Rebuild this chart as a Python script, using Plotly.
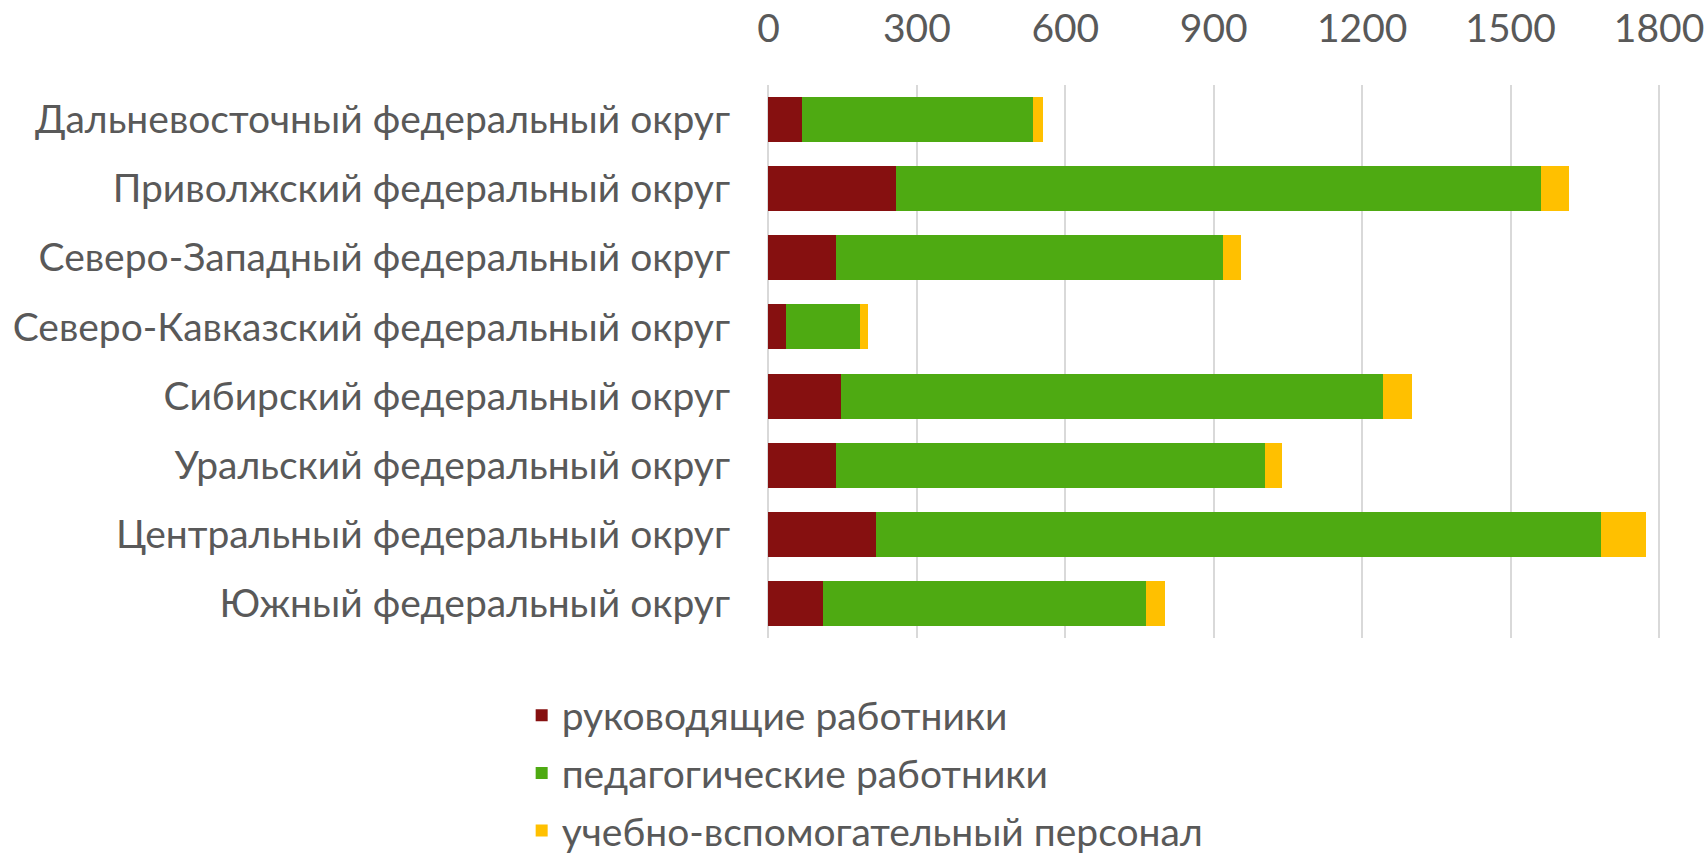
import plotly.graph_objects as go

categories = [
    "Дальневосточный федеральный округ",
    "Приволжский федеральный округ",
    "Северо-Западный федеральный округ",
    "Северо-Кавказский федеральный округ",
    "Сибирский федеральный округ",
    "Уральский федеральный округ",
    "Центральный федеральный округ",
    "Южный федеральный округ",
]
managers = [67, 257, 136, 36, 147, 137, 218, 110]
teachers = [468, 1305, 783, 148, 1096, 866, 1464, 653]
support = [20, 57, 37, 17, 57, 35, 92, 39]
series_names = ["руководящие работники", "педагогические работники", "учебно-вспомогательный персонал"]
colors = ["#861010", "#4EAA12", "#FFC000"]
tick_vals = [0, 300, 600, 900, 1200, 1500, 1800]

fig = go.Figure()
for i, (name, vals, col) in enumerate(zip(series_names, [managers, teachers, support], colors)):
    fig.add_trace(go.Bar(
        y=categories, x=vals, name=name, orientation="h",
        legendgroup=f"g{i}",
        marker=dict(color=col, line=dict(width=0)),
    ))

font_family = "Lato, 'Open Sans', sans-serif"
fs = 39
fig.update_layout(
    width=1708, height=854,
    barmode="stack", bargap=0.35,
    paper_bgcolor="white", plot_bgcolor="white",
    font=dict(family=font_family, size=fs, color="#595959"),
    margin=dict(l=766, r=47, t=85, b=216, autoexpand=False),
    xaxis=dict(
        side="top", range=[-5, 1804], tickvals=tick_vals,
        showgrid=True, gridcolor="#D9D9D9", gridwidth=1.5,
        zeroline=False, showline=False, ticks="",
        ticklabelstandoff=34, automargin=False,
        tickfont=dict(size=fs, color="#595959"),
    ),
    yaxis=dict(
        categoryorder="array", categoryarray=categories, autorange="reversed",
        showgrid=False, zeroline=False, showline=False, ticks="",
        ticklabelstandoff=35, automargin=False,
        tickfont=dict(size=fs, color="#595959"),
    ),
    legend=dict(
        orientation="v", x=-0.273, xanchor="left", y=-0.082, yanchor="top",
        font=dict(size=fs, color="#595959"), traceorder="grouped",
        tracegroupgap=4,
        bgcolor="rgba(0,0,0,0)",
    ),
    showlegend=True,
)

fig.write_html("out.html", config={"displayModeBar": False},
               post_script="document.body.style.margin='0';")
